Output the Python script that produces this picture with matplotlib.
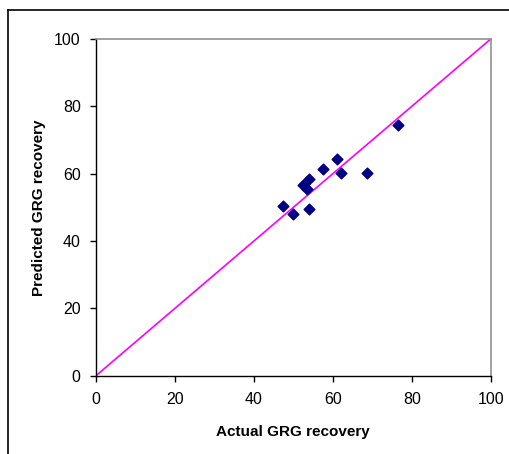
import matplotlib
matplotlib.use("Agg")
import matplotlib.pyplot as plt
from matplotlib.lines import Line2D

plt.rcParams['font.family'] = ['Liberation Sans', 'DejaVu Sans']

actual = [76.6, 61.0, 57.4, 62.1, 68.6, 54.0, 52.5, 53.4, 47.5, 49.8, 54.0]
predicted = [74.5, 64.3, 61.4, 60.3, 60.3, 58.5, 56.6, 55.4, 50.4, 47.9, 49.4]
ticks = [0, 20, 40, 60, 80, 100]

fig = plt.figure(figsize=(5.09, 4.54), dpi=100)
ax = fig.add_axes([0.1886, 0.1725, 0.7754, 0.7415])

# 1:1 reference line
ax.plot([0, 100], [0, 100], color='#FF00FF', lw=1.2, zorder=2)
ax.scatter(actual, predicted, marker='D', s=30, color='#000080',
           edgecolors='#000080', zorder=3)

ax.set_xlim(0, 100)
ax.set_ylim(0, 100)
ax.set_xticks(ticks)
ax.set_yticks(ticks)
ax.tick_params(direction='out', length=4, width=1, labelsize=11.5, color='black')
ax.tick_params(axis='x', pad=8)
ax.tick_params(axis='y', pad=7)

for side in ('left', 'bottom'):
    ax.spines[side].set_color('black')
    ax.spines[side].set_linewidth(1)
for side in ('top', 'right'):
    ax.spines[side].set_color('#909090')
    ax.spines[side].set_linewidth(1.2)

ax.set_xlabel('Actual GRG recovery', fontsize=11, fontweight='bold', labelpad=13)
ax.set_ylabel('Predicted GRG recovery', fontsize=11, fontweight='bold', labelpad=6)

# outer chart frame (left and top edges)
fig.add_artist(Line2D([8 / 509, 8 / 509], [0, 1 - 10 / 454], color='black', lw=1.2,
                      transform=fig.transFigure))
fig.add_artist(Line2D([8 / 509, 1], [1 - 10 / 454, 1 - 10 / 454], color='black', lw=1.2,
                      transform=fig.transFigure))

fig.savefig('out.png', dpi=100)
